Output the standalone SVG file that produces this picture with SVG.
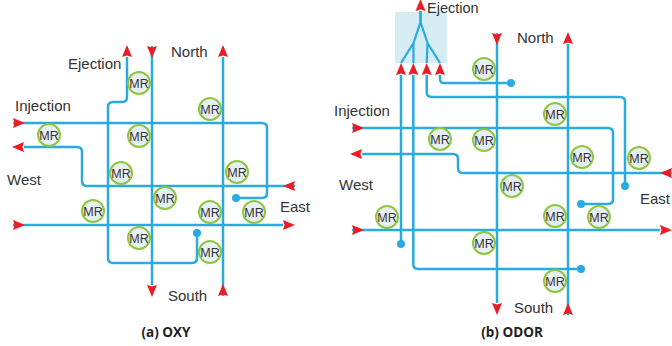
<svg xmlns="http://www.w3.org/2000/svg" width="672" height="346" viewBox="0 0 672 346">
<style>
.ln{fill:none;stroke:#29ABE2;stroke-width:2.5;stroke-linejoin:round}
.tr{fill:none;stroke:#29ABE2;stroke-width:2.2}
.dot{fill:#29ABE2}
.mr circle{fill:#E8EEF6;stroke:#8DC63F;stroke-width:2}
.mr text{font-family:"Liberation Sans",Arial,sans-serif;font-size:12.5px;fill:#333;text-anchor:middle}
.lbl{font-family:"Liberation Sans",Arial,sans-serif;font-size:15px;fill:#333}
.cap{font-family:"Open Sans","Liberation Sans",Arial,sans-serif;font-size:13.5px;font-weight:bold;fill:#222;text-anchor:middle}
</style>
<defs>
<marker id="ar" markerUnits="userSpaceOnUse" viewBox="0 -6 13 12" refX="0" refY="0" markerWidth="13" markerHeight="12" orient="auto" overflow="visible">
<path d="M0,-5 L12,0 L0,5 L1.5,0 Z" fill="#ED1C24"/>
</marker>
</defs>
<rect id="ejection-box" x="395" y="12" width="52" height="51" fill="#D5ECF3"/>
<g id="connectors">
<!-- panel a -->
<path class="ln" d="M197,233 V258 Q197,263 192,263 H113 Q108,263 108,258 V107 Q108,102 113,102 H122 Q127,102 127,97 V57" marker-end="url(#ar)"/>
<circle class="dot" cx="197" cy="233" r="4"/>
<path class="ln" d="M152,46 V285" marker-start="url(#ar)" marker-end="url(#ar)"/>
<path class="ln" d="M223,296 V57" marker-start="url(#ar)" marker-end="url(#ar)"/>
<path class="ln" d="M13,123 H262 Q267,123 267,128 V193 Q267,198 262,198 H236" marker-start="url(#ar)"/>
<circle class="dot" cx="236" cy="198" r="4"/>
<path class="ln" d="M295,186 H87 Q82,186 82,181 V152 Q82,147 77,147 H24" marker-start="url(#ar)" marker-end="url(#ar)"/>
<path class="ln" d="M13,225 H283" marker-start="url(#ar)" marker-end="url(#ar)"/>
<!-- panel b -->
<path class="tr" d="M420.5,11 V22 L413.5,43 L401,63 M413.5,43 V63 M420.5,22 L427.5,43 L426.7,63 M427.5,43 L440,63"/>
<path class="ln" d="M420.5,22 V11" marker-end="url(#ar)"/>
<path class="ln" d="M401,244 V75" marker-end="url(#ar)"/>
<circle class="dot" cx="401" cy="244" r="4"/>
<path class="ln" d="M581,269 H418 Q413.3,269 413.3,264 V75" marker-end="url(#ar)"/>
<circle class="dot" cx="581" cy="269" r="4"/>
<path class="ln" d="M625,186 V102 Q625,97 620,97 H432 Q426.7,97 426.7,92 V75" marker-end="url(#ar)"/>
<circle class="dot" cx="625" cy="186" r="4"/>
<path class="ln" d="M511,83 H444 Q440,83 440,79 V75" marker-end="url(#ar)"/>
<circle class="dot" cx="511" cy="83" r="4"/>
<path class="ln" d="M497,33 V303" marker-start="url(#ar)" marker-end="url(#ar)"/>
<path class="ln" d="M568,315 V44" marker-start="url(#ar)" marker-end="url(#ar)"/>
<path class="ln" d="M352,128 H608 Q613,128 613,133 V199 Q613,204 608,204 H581" marker-start="url(#ar)"/>
<circle class="dot" cx="581" cy="204" r="4"/>
<path class="ln" d="M672,173 H463 Q458,173 458,168 V159 Q458,154 453,154 H362" marker-start="url(#ar)" marker-end="url(#ar)"/>
<path class="ln" d="M352,230 H660" marker-start="url(#ar)" marker-end="url(#ar)"/>
</g>
<g id="a-mr1" class="mr" transform="translate(139,83)"><circle r="11"/><text y="4.5">MR</text></g>
<g id="a-mr2" class="mr" transform="translate(210,109)"><circle r="11"/><text y="4.5">MR</text></g>
<g id="a-mr3" class="mr" transform="translate(49,135)"><circle r="11"/><text y="4.5">MR</text></g>
<g id="a-mr4" class="mr" transform="translate(139,136)"><circle r="11"/><text y="4.5">MR</text></g>
<g id="a-mr5" class="mr" transform="translate(121,173)"><circle r="11"/><text y="4.5">MR</text></g>
<g id="a-mr6" class="mr" transform="translate(237,172)"><circle r="11"/><text y="4.5">MR</text></g>
<g id="a-mr7" class="mr" transform="translate(165,198)"><circle r="11"/><text y="4.5">MR</text></g>
<g id="a-mr8" class="mr" transform="translate(93,211)"><circle r="11"/><text y="4.5">MR</text></g>
<g id="a-mr9" class="mr" transform="translate(210,212)"><circle r="11"/><text y="4.5">MR</text></g>
<g id="a-mr10" class="mr" transform="translate(254,212)"><circle r="11"/><text y="4.5">MR</text></g>
<g id="a-mr11" class="mr" transform="translate(139,238)"><circle r="11"/><text y="4.5">MR</text></g>
<g id="a-mr12" class="mr" transform="translate(210,252)"><circle r="11"/><text y="4.5">MR</text></g>
<g id="b-mr1" class="mr" transform="translate(484,69)"><circle r="11"/><text y="4.5">MR</text></g>
<g id="b-mr2" class="mr" transform="translate(555,114)"><circle r="11"/><text y="4.5">MR</text></g>
<g id="b-mr3" class="mr" transform="translate(440,139)"><circle r="11"/><text y="4.5">MR</text></g>
<g id="b-mr4" class="mr" transform="translate(484,140)"><circle r="11"/><text y="4.5">MR</text></g>
<g id="b-mr5" class="mr" transform="translate(582,157)"><circle r="11"/><text y="4.5">MR</text></g>
<g id="b-mr6" class="mr" transform="translate(639,158)"><circle r="11"/><text y="4.5">MR</text></g>
<g id="b-mr7" class="mr" transform="translate(512,186)"><circle r="11"/><text y="4.5">MR</text></g>
<g id="b-mr8" class="mr" transform="translate(387,217)"><circle r="11"/><text y="4.5">MR</text></g>
<g id="b-mr9" class="mr" transform="translate(555,216)"><circle r="11"/><text y="4.5">MR</text></g>
<g id="b-mr10" class="mr" transform="translate(599,217)"><circle r="11"/><text y="4.5">MR</text></g>
<g id="b-mr11" class="mr" transform="translate(484,243)"><circle r="11"/><text y="4.5">MR</text></g>
<g id="b-mr12" class="mr" transform="translate(555,281)"><circle r="11"/><text y="4.5">MR</text></g>
<g id="labels">
<text class="lbl" x="68" y="69">Ejection</text>
<text class="lbl" x="15" y="110.5">Injection</text>
<text class="lbl" x="171" y="57">North</text>
<text class="lbl" x="7" y="185">West</text>
<text class="lbl" x="280" y="211.5">East</text>
<text class="lbl" x="168" y="300.5">South</text>
<text class="cap" x="166" y="337">(a) OXY</text>
<text class="lbl" x="427" y="13" style="font-size:14.5px">Ejection</text>
<text class="lbl" x="334" y="115.5">Injection</text>
<text class="lbl" x="517" y="43">North</text>
<text class="lbl" x="339" y="189.5">West</text>
<text class="lbl" x="640" y="204">East</text>
<text class="lbl" x="514" y="313">South</text>
<text class="cap" x="512" y="337">(b) ODOR</text>
</g>
</svg>
